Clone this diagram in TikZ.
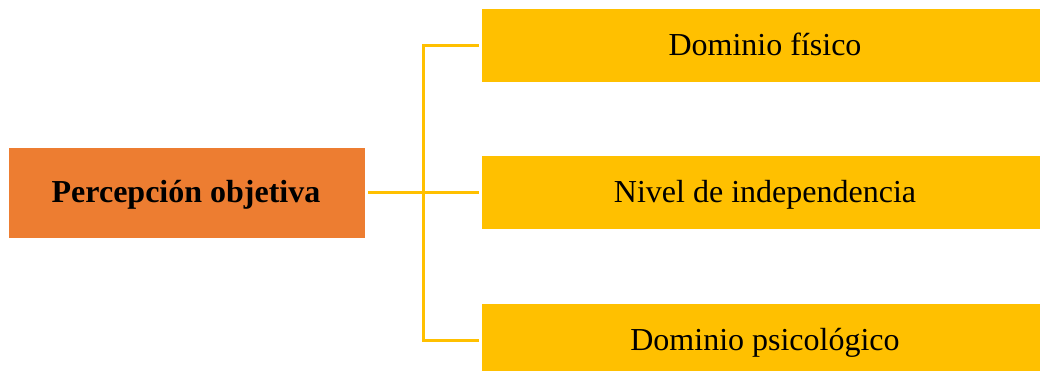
\documentclass[tikz,border=0pt]{standalone}
\usepackage{fontspec}
\setmainfont{Liberation Serif}
\definecolor{orng}{HTML}{ED7D31}
\definecolor{gold}{HTML}{FFC000}
\begin{document}
\begin{tikzpicture}[x=1pt,y=-1pt,
  mainbox/.style={fill=orng,minimum width=356pt,minimum height=89pt,inner sep=0pt},
  subbox/.style={fill=gold,minimum width=558pt,minimum height=73pt,inner sep=0pt},
  maintxt/.style={anchor=base,inner sep=0pt,font=\fontsize{32}{38}\selectfont\bfseries},
  subtxt/.style={anchor=base,inner sep=0pt,font=\fontsize{32}{38}\selectfont},
  link/.style={draw=gold,line width=3pt}]
\clip (0,0) rectangle (1040,371);
\fill[white] (0,0) rectangle (1040,371);
\node[mainbox] (m) at (187,193) {};
\node[subbox] (a) at (761,46) {};
\node[subbox] (b) at (761,193) {};
\node[subbox] (c) at (761,340.5) {};
\node[maintxt] (mt) at (186,203) {Percepción objetiva};
\node[subtxt] (at) at (765,56) {Dominio físico};
\node[subtxt] (bt) at (765,203) {Nivel de independencia};
\node[subtxt] (ct) at (765,350) {Dominio psicológico};
\coordinate (j) at (423,193);
\draw[link] ([xshift=3pt]m.east) -- (j);
\draw[link] ([xshift=-3pt]a.west) -| (j);
\draw[link] ([xshift=-3pt]b.west) -- (j);
\draw[link] ([xshift=-3pt]c.west) -| (j);
\end{tikzpicture}
\end{document}
